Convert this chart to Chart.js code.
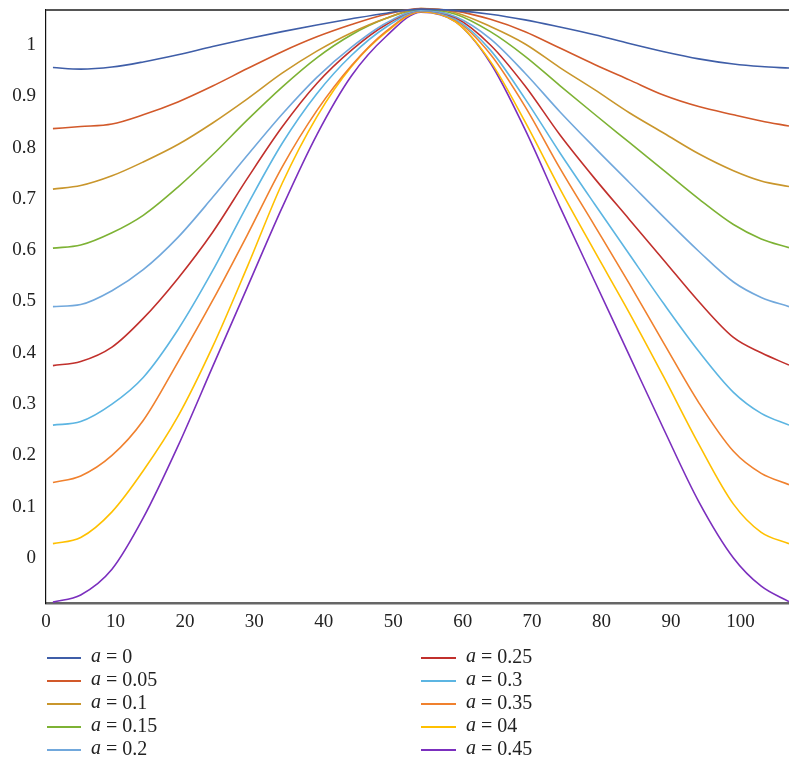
<!DOCTYPE html>
<html>
<head>
<meta charset="utf-8">
<script src="https://cdn.jsdelivr.net/npm/chart.js@4.4.0/dist/chart.umd.min.js"></script>
<style>
  html, body { margin: 0; padding: 0; background: #fff; }
  #wrap { position: relative; width: 789px; height: 761px; }
</style>
</head>
<body>
<div id="wrap"><canvas id="c" width="789" height="761"></canvas></div>
<script>
// x positions of samples
const xValues = [1, 5, 9.5, 14, 19, 24, 29, 34, 39, 44, 49, 54, 59, 64, 69, 74, 79, 84, 89, 94, 99, 103, 107];

const seriesA0   = [0.956, 0.953, 0.957, 0.967, 0.981, 0.997, 1.012, 1.026, 1.039, 1.051, 1.062, 1.070, 1.067, 1.060, 1.049, 1.035, 1.020, 1.003, 0.987, 0.973, 0.963, 0.958, 0.955];
const seriesA005 = [0.837, 0.841, 0.846, 0.864, 0.889, 0.920, 0.954, 0.987, 1.016, 1.040, 1.060, 1.071, 1.066, 1.050, 1.026, 0.994, 0.962, 0.932, 0.902, 0.880, 0.864, 0.852, 0.842];
const seriesA01  = [0.719, 0.726, 0.745, 0.772, 0.806, 0.848, 0.895, 0.945, 0.988, 1.024, 1.052, 1.071, 1.063, 1.036, 1.002, 0.956, 0.913, 0.868, 0.828, 0.788, 0.755, 0.735, 0.724];
const seriesA015 = [0.604, 0.610, 0.634, 0.668, 0.723, 0.786, 0.854, 0.918, 0.975, 1.020, 1.052, 1.070, 1.060, 1.026, 0.978, 0.921, 0.865, 0.810, 0.755, 0.700, 0.650, 0.622, 0.605];
const seriesA02  = [0.490, 0.494, 0.521, 0.562, 0.625, 0.703, 0.785, 0.865, 0.937, 0.996, 1.043, 1.068, 1.055, 1.012, 0.945, 0.870, 0.800, 0.732, 0.664, 0.598, 0.538, 0.508, 0.490];
const seriesA025 = [0.375, 0.383, 0.411, 0.467, 0.545, 0.635, 0.740, 0.840, 0.925, 0.990, 1.040, 1.068, 1.053, 1.000, 0.920, 0.825, 0.740, 0.660, 0.580, 0.500, 0.430, 0.400, 0.376];
const seriesA03  = [0.259, 0.266, 0.300, 0.352, 0.445, 0.560, 0.688, 0.808, 0.905, 0.980, 1.035, 1.067, 1.050, 0.990, 0.895, 0.790, 0.690, 0.592, 0.495, 0.403, 0.323, 0.282, 0.259];
const seriesA035 = [0.147, 0.160, 0.200, 0.268, 0.382, 0.502, 0.630, 0.762, 0.872, 0.960, 1.027, 1.066, 1.048, 0.982, 0.880, 0.760, 0.648, 0.535, 0.418, 0.303, 0.208, 0.165, 0.143];
const seriesA04  = [0.028, 0.040, 0.090, 0.170, 0.276, 0.412, 0.568, 0.730, 0.860, 0.958, 1.025, 1.065, 1.045, 0.968, 0.850, 0.720, 0.598, 0.478, 0.352, 0.222, 0.105, 0.050, 0.028];
const seriesA045 = [-0.086, -0.072, -0.022, 0.078, 0.218, 0.373, 0.528, 0.683, 0.825, 0.940, 1.017, 1.064, 1.045, 0.965, 0.835, 0.685, 0.540, 0.395, 0.250, 0.110, 0.000, -0.055, -0.085];

const legendValues = ['0', '0.05', '0.1', '0.15', '0.2', '0.25', '0.3', '0.35', '04', '0.45'];
const seriesColors = ['#3f5ea8', '#d2592a', '#c9962c', '#7db234', '#71a8dc', '#c1302c', '#5cb5e2', '#f0812e', '#ffc000', '#7b2fbe'];
const allSeries = [seriesA0, seriesA005, seriesA01, seriesA015, seriesA02, seriesA025, seriesA03, seriesA035, seriesA04, seriesA045];

const xTicks = [0, 10, 20, 30, 40, 50, 60, 70, 80, 90, 100];
const yTicks = [0, 0.1, 0.2, 0.3, 0.4, 0.5, 0.6, 0.7, 0.8, 0.9, 1];

const FONT = '"Liberation Serif", "DejaVu Serif", serif';

const datasets = allSeries.map((s, i) => ({
  label: 'a = ' + legendValues[i],
  data: s.map((v, j) => ({ x: xValues[j], y: v })),
  borderColor: seriesColors[i],
  backgroundColor: seriesColors[i],
  borderWidth: 1.6,
  pointRadius: 0,
  fill: false,
  cubicInterpolationMode: 'monotone',
  clip: 6
}));

const topLine = {
  id: 'topLine',
  beforeDatasetsDraw(chart) {
    const { ctx, chartArea } = chart;
    ctx.save();
    ctx.strokeStyle = '#555';
    ctx.lineWidth = 2;
    ctx.beginPath();
    ctx.moveTo(chartArea.left, chartArea.top);
    ctx.lineTo(chartArea.right, chartArea.top);
    ctx.stroke();
    ctx.restore();
  }
};

const customLegend = {
  id: 'customLegend',
  afterDraw(chart) {
    const ctx = chart.ctx;
    ctx.save();
    chart.data.datasets.forEach((ds, i) => {
      const col = i < 5 ? 0 : 1;
      const row = i % 5;
      const y = 658 + row * 23;
      const x0 = col ? 421 : 47;
      const x1 = col ? 456 : 81;
      const tx = col ? 466 : 91;
      ctx.strokeStyle = ds.borderColor;
      ctx.lineWidth = 2;
      ctx.beginPath();
      ctx.moveTo(x0, y);
      ctx.lineTo(x1, y);
      ctx.stroke();
      ctx.fillStyle = '#222';
      ctx.textBaseline = 'middle';
      ctx.textAlign = 'left';
      ctx.font = 'italic 20px ' + FONT;
      ctx.fillText('a', tx, y - 1);
      const w = ctx.measureText('a').width;
      ctx.font = '20px ' + FONT;
      ctx.fillText(' = ' + legendValues[i], tx + w, y);
    });
    ctx.restore();
  }
};

new Chart(document.getElementById('c'), {
  type: 'line',
  data: { datasets },
  plugins: [topLine, customLegend],
  options: {
    responsive: false,
    animation: false,
    layout: { padding: { top: 10, right: 0, bottom: 128, left: 0 } },
    plugins: { legend: { display: false }, tooltip: { enabled: false } },
    scales: {
      x: {
        type: 'linear',
        min: 0,
        max: 107,
        afterBuildTicks(scale) { scale.ticks = xTicks.map(v => ({ value: v })); },
        afterFit(scale) { scale.height = 30; scale.paddingLeft = 0; scale.paddingRight = 0; },
        grid: { display: false, drawTicks: false },
        border: { display: true, color: '#666', width: 2.5 },
        ticks: {
          color: '#222',
          padding: 8,
          maxRotation: 0,
          font: { family: FONT, size: 19 },
          callback: v => String(v)
        }
      },
      y: {
        type: 'linear',
        min: -0.0877,
        max: 1.0682,
        afterBuildTicks(scale) { scale.ticks = yTicks.map(v => ({ value: v })); },
        afterFit(scale) { scale.width = 46; scale.paddingTop = 0; scale.paddingBottom = 0; },
        grid: { display: false, drawTicks: false },
        border: { display: true, color: '#111', width: 1.2 },
        ticks: {
          color: '#222',
          padding: 10,
          font: { family: FONT, size: 19 },
          callback: v => String(Math.round(v * 10) / 10)
        }
      }
    }
  }
});
</script>
</body>
</html>
